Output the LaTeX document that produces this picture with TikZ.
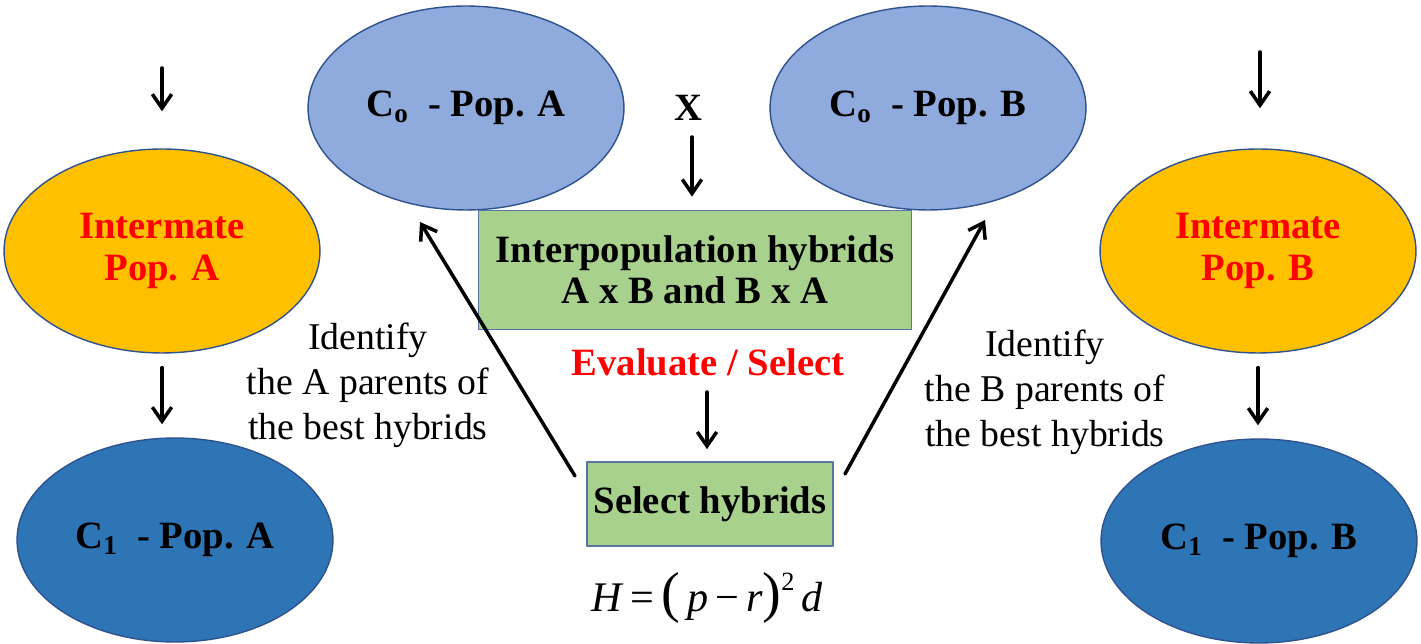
\documentclass[tikz,border=0pt]{standalone}
\usepackage{fontspec}
\setmainfont{Liberation Serif}
\usetikzlibrary{shapes.geometric,arrows.meta}

\definecolor{cycblue}{HTML}{8FAADC}
\definecolor{newblue}{HTML}{2E75B6}
\definecolor{mateorange}{HTML}{FFC000}
\definecolor{hybgreen}{HTML}{A9D18E}
\definecolor{edgeblue}{HTML}{2F528F}

\begin{document}
\begin{tikzpicture}[
    x=0.02cm,
    y=-0.02cm,
    line cap=round,
    line join=round,
    every node/.style={font=\fontsize{21.5}{25.5}\selectfont},
    popcycle/.style={ellipse,draw=edgeblue,line width=0.8pt,inner sep=0pt,
        minimum width=6.32cm,minimum height=4.08cm,align=center,
        font=\bfseries\fontsize{22}{24}\selectfont},
    hybbox/.style={rectangle,draw=edgeblue!80,line width=1pt,fill=hybgreen,
        align=center,inner sep=0pt,font=\bfseries\fontsize{22}{23.5}\selectfont},
    flow/.style={line width=2pt,-{Straight Barb[length=8pt,width=11pt,line width=2pt]}}
]

\useasboundingbox (0,0) rectangle (1421,644);

% -------------------------------------------------
% Population A (left column)
% -------------------------------------------------

\node[popcycle,fill=mateorange,text=red] (mateA) at (162,251) {Intermate\\Pop. A};
\node[popcycle,fill=newblue] (newA) at (175,540) {C\textsubscript{1}\ \ - Pop. A};

\coordinate (inA) at (162,68);
\draw[flow,shorten >=0.74cm] (inA) -- (inA |- mateA.north);
\draw[flow,shorten <=0.28cm,shorten >=0.26cm] (mateA.south) -- (mateA.south |- newA.north);

% -------------------------------------------------
% Population B (right column)
% -------------------------------------------------

\node[popcycle,fill=mateorange,text=red] (mateB) at (1258,251) {Intermate\\Pop. B};
\node[popcycle,fill=newblue] (newB) at (1259,541) {C\textsubscript{1}\ \ - Pop. B};

\coordinate (inB) at (1260,52);
\draw[flow,shorten >=0.80cm] (inB) -- (inB |- mateB.north);
\draw[flow,shorten <=0.28cm,shorten >=0.26cm] (mateB.south) -- (mateB.south |- newB.north);

% -------------------------------------------------
% Cycle 0 populations and the cross
% -------------------------------------------------

\node[popcycle,fill=cycblue] (cycA) at (466,108) {C\textsubscript{o}\ \ - Pop. A};
\node[popcycle,fill=cycblue] (cycB) at (928,108) {C\textsubscript{o}\ \ - Pop. B};
\node[font=\bfseries\fontsize{22}{25}\selectfont] (cross) at (688,108) {X};

\node[hybbox,minimum width=8.66cm,minimum height=2.38cm] (inter) at (695,270)
    {Interpopulation hybrids\\A x B and B x A};

\coordinate (xtop) at (692,137);
\draw[flow,shorten >=0.26cm] (xtop) -- (xtop |- inter.north);

% -------------------------------------------------
% Evaluation and selection
% -------------------------------------------------

\node[text=red,font=\bfseries\fontsize{22}{25}\selectfont] (evalsel) at (708,362) {Evaluate / Select};

\node[hybbox,minimum width=4.92cm,minimum height=1.68cm] (sel) at (710,504) {Select hybrids};

\coordinate (evtop) at (707,392);
\draw[flow,shorten >=0.24cm] (evtop) -- (evtop |- sel.north);

\node (hform) at (707,598) {\fontsize{24}{28}\selectfont
    \textit{H}\,=\,{\fontsize{32}{32}\selectfont(}\,\textit{p}\,−\,\textit{r}{\fontsize{32}{32}\selectfont)}\raisebox{12pt}{\fontsize{15}{15}\selectfont 2}\,\textit{d}};

% -------------------------------------------------
% Back to the parent populations
% -------------------------------------------------

\coordinate (retA) at (575,476);
\coordinate (retB) at (845,474);
\coordinate (tipA) at (420,222);
\coordinate (tipB) at (985,220);

\draw[flow] (retA) -- (tipA);
\draw[flow] (retB) -- (tipB);

\node[align=center] (idA) at (368,385) {Identify\\the A parents of\\the best hybrids};
\node[align=center] (idB) at (1045,392) {Identify\\the B parents of\\the best hybrids};

\end{tikzpicture}
\end{document}
